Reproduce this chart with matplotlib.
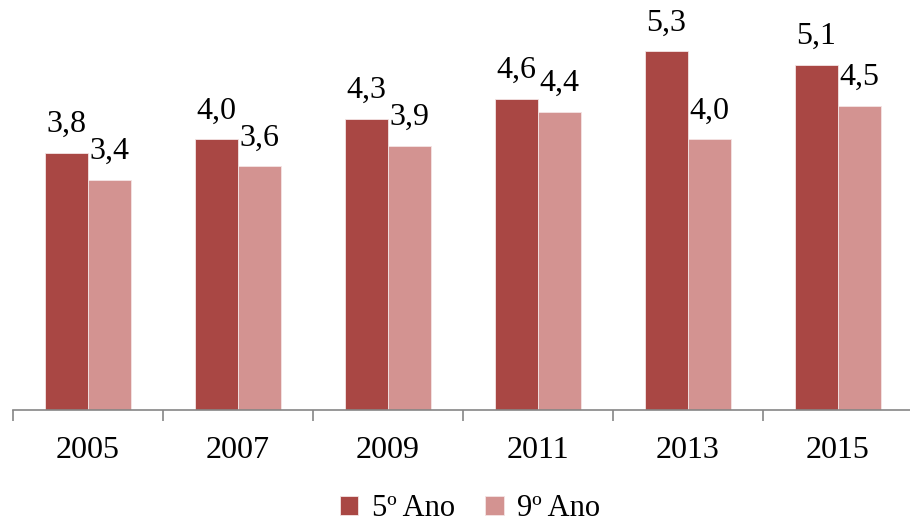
import matplotlib.pyplot as plt
import matplotlib.ticker as mpltick
import numpy as np

# Data
anos = ["2005", "2007", "2009", "2011", "2013", "2015"]
quinto = [3.8, 4.0, 4.3, 4.6, 5.3, 5.1]
nono = [3.4, 3.6, 3.9, 4.4, 4.0, 4.5]
series = ["5º Ano", "9º Ano"]
cores = ["#A94744", "#D39391"]

plt.rcParams["font.family"] = ["Liberation Serif", "DejaVu Serif"]

fig = plt.figure(figsize=(9.1, 5.22), dpi=100)
# axes spans past right edge so the last category gets cut like the original layout
ax = fig.add_axes([13 / 910, 1 - 410 / 522, 900 / 910, 406 / 522])

x = np.arange(len(anos))
w = 0.287
for vals, off, cor, nome in zip([quinto, nono], [-w / 2, w / 2], cores, series):
    bars = ax.bar(x + off, vals, w, color=cor, edgecolor="#f4e4e4", linewidth=0.6, label=nome)
    for b, v in zip(bars, vals):
        ax.annotate(
            f"{v:.1f}".replace(".", ","),
            xy=(b.get_x() + b.get_width() / 2, v),
            xytext=(0, 20.5),
            textcoords="offset points",
            ha="center",
            va="center",
            fontsize=23,
        )

ax.set_xlim(-0.5, len(anos) - 0.5)
ax.set_ylim(0, 6)

# Spines / ticks
for s in ["top", "right", "left"]:
    ax.spines[s].set_visible(False)
ax.spines["bottom"].set_color("#868686")
ax.spines["bottom"].set_linewidth(1.2)
ax.set_yticks([])
ax.set_xticks(x)
ax.set_xticklabels(anos, fontsize=23)
ax.tick_params(axis="x", which="major", length=0, pad=19)
ax.xaxis.set_minor_locator(mpltick.FixedLocator(np.arange(-0.5, len(anos), 1.0)))
ax.tick_params(axis="x", which="minor", length=8, width=1.2, color="#868686", direction="out")

fig.legend(
    loc="center",
    bbox_to_anchor=(470 / 910, 1 - 509 / 522),
    ncol=2,
    frameon=False,
    fontsize=22,
    handlelength=0.6,
    handleheight=0.6,
    handletextpad=0.45,
    columnspacing=1.0,
)

fig.savefig("out.png", dpi=100)
